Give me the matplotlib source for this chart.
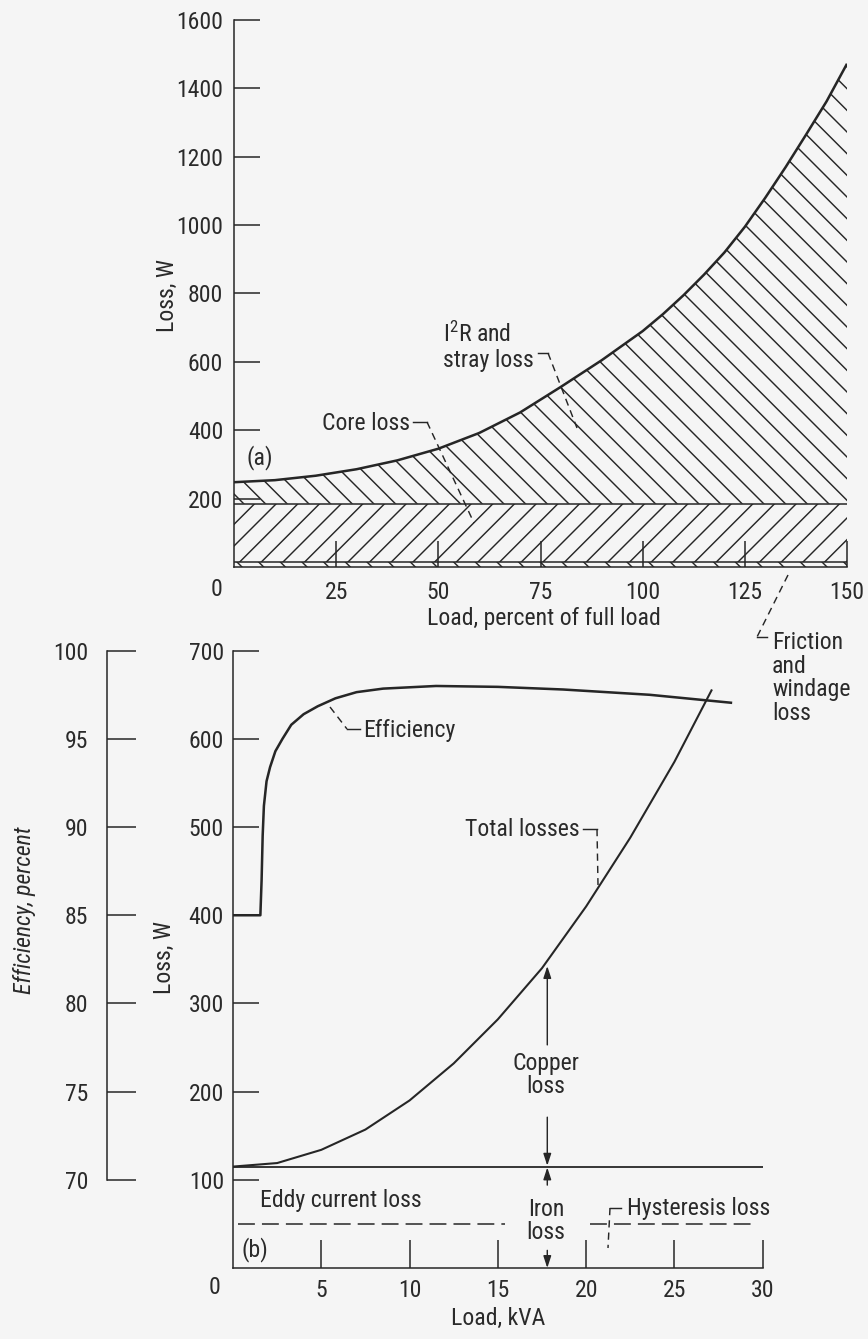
import numpy as np
import matplotlib
matplotlib.use("Agg")
import matplotlib.pyplot as plt
from matplotlib import font_manager as fm
from matplotlib.lines import Line2D
from matplotlib.transforms import Affine2D


# (a) losses against percent of full load
load_pct = [0, 10, 20, 30, 40, 50, 60, 70, 80, 90, 100, 105, 110, 115, 120, 125,
            130, 135, 140, 145, 150]
total_loss_a = [248, 254, 267, 286, 312, 346, 392, 452, 527, 605, 690, 740, 795, 855,
                920, 995, 1080, 1170, 1265, 1362, 1472]
friction_windage = 16
core_plus_friction = 185
ticks_a_x = [25, 50, 75, 100, 125, 150]
ticks_a_y = [200, 400, 600, 800, 1000, 1200, 1400, 1600]

# (b) losses and efficiency against kVA
load_kva = [0, 2.5, 5, 7.5, 10, 12.5, 15, 17.5, 20, 22.5, 25, 27.1]
total_loss_b = [115, 119, 134, 157, 190, 232, 282, 340, 410, 488, 574, 655]
iron_loss = 115
hysteresis_loss = 50
eff_kva = [0, 1.55, 1.62, 1.68, 1.75, 1.9, 2.1, 2.4, 2.8, 3.3, 4.0, 4.8, 5.8, 7.0,
           8.5, 11.5, 15, 18.7, 23.6, 28.2]
efficiency = [85, 85, 87, 89.5, 91.2, 92.6, 93.4, 94.3, 95.0, 95.8, 96.4, 96.85, 97.3,
              97.65, 97.85, 98.0, 97.95, 97.8, 97.5, 97.05]
eddy_spans = [(0.3, 15.4), (20.2, 29.5)]
arrow_kva = 17.8
ticks_b_x = [5, 10, 15, 20, 25, 30]
ticks_b_y = [100, 200, 300, 400, 500, 600, 700]
ticks_eff = [70, 75, 80, 85, 90, 95, 100]

W, H, DPI = 868, 1339, 130
BG = "#f5f5f5"
INK = "#262626"
TXT = "#2a2a2a"

# the original lettering is a narrow sans, take the narrowest one we have
installed = {f.name for f in fm.fontManager.ttflist}
FONT, FS = "DejaVu Sans", 11.0
for name, size in [("Liberation Sans Narrow", 12.8), ("DejaVu Sans Condensed", 11.5),
                   ("Roboto Condensed", 13.2), ("Open Sans Condensed", 12.5),
                   ("Liberation Sans", 11.5)]:
    if name in installed:
        FONT, FS = name, size
        break

plt.rcParams["font.family"] = [FONT, "DejaVu Sans"]
plt.rcParams["mathtext.fontset"] = "custom"
plt.rcParams["mathtext.rm"] = FONT
plt.rcParams["mathtext.default"] = "rm"
plt.rcParams["hatch.linewidth"] = 0.8
plt.rcParams["hatch.color"] = INK
plt.rcParams["text.color"] = TXT

fig = plt.figure(figsize=(W / DPI, H / DPI), dpi=DPI, facecolor=BG)
# pixel coordinates, origin top-left, for labels and leader lines
PX = Affine2D().scale(1 / W, -1 / H).translate(0, 1) + fig.transFigure


def px_box(left, right, top, bottom):
    return [left / W, 1 - bottom / H, (right - left) / W, (bottom - top) / H]


def txt(x, y, s, **kw):
    kw.setdefault("ha", "center")
    kw.setdefault("va", "center")
    kw.setdefault("fontsize", FS)
    fig.text(x, y, s, transform=PX, **kw)


def leader(xs, ys, dashed=True):
    ls = (0, (5, 3.5)) if dashed else "-"
    fig.add_artist(Line2D(xs, ys, transform=PX, color=INK, lw=0.8, ls=ls))


def style_axis(ax, ylen, xlen, ypad, xpad):
    ax.set_facecolor("none")
    for s in ["top", "right"]:
        ax.spines[s].set_visible(False)
    for s in ["left", "bottom"]:
        ax.spines[s].set_linewidth(0.85)
        ax.spines[s].set_color(INK)
    ax.tick_params(axis="y", direction="in", length=ylen, width=0.85, color=INK,
                   pad=ypad, labelsize=FS, labelcolor=TXT)
    ax.tick_params(axis="x", direction="in", length=xlen, width=0.85, color=INK,
                   pad=xpad, labelsize=FS, labelcolor=TXT)


# ---------------- panel (a) ----------------
axa = fig.add_axes(px_box(234, 847, 20, 567))
axa.set_xlim(0, 150)
axa.set_ylim(0, 1600)
style_axis(axa, 14.5, 14.5, 6.0, 8.0)
axa.set_xticks(ticks_a_x)
axa.set_yticks(ticks_a_y)

x_a = np.array(load_pct)
y_a = np.array(total_loss_a)
axa.fill_between(x_a, 0, friction_windage, facecolor="none", edgecolor=INK,
                 hatch="\\\\", linewidth=0)
axa.fill_between(x_a, friction_windage, core_plus_friction, facecolor="none",
                 edgecolor=INK, hatch="//", linewidth=0)
axa.fill_between(x_a, core_plus_friction, y_a, facecolor="none", edgecolor=INK,
                 hatch="\\\\", linewidth=0)
axa.plot(x_a, np.full(len(x_a), friction_windage), color=INK, lw=0.85)
axa.plot(x_a, np.full(len(x_a), core_plus_friction), color=INK, lw=0.85)
axa.plot(x_a, y_a, color=INK, lw=1.4, solid_capstyle="butt")

txt(216, 590, "0")
txt(544, 618, "Load, percent of full load")
txt(167, 295, "Loss, W", rotation=90)
txt(260, 458, "(a)")

txt(366, 424, "Core loss")
leader([413, 427], [422, 422], dashed=False)
leader([427, 474], [422, 523])

txt(443, 347, "I$^{2}$R and\nstray loss", ha="left", linespacing=1.1)
leader([538, 548], [353, 353], dashed=False)
leader([548, 577], [353, 428])

txt(772, 678, "Friction\nand\nwindage\nloss", ha="left", linespacing=1.02)
leader([788, 757], [575, 637])
leader([757, 767], [637, 637], dashed=False)

# ---------------- panel (b) ----------------
axb = fig.add_axes(px_box(233, 762.7, 650.7, 1268))
axb.set_xlim(0, 30)
axb.set_ylim(0, 700)
style_axis(axb, 14.5, 15.5, 5.0, 6.0)
axb.set_xticks(ticks_b_x)
axb.set_yticks(ticks_b_y)

axb.plot(load_kva, total_loss_b, color=INK, lw=1.15)
axb.plot([0, 30], [iron_loss, iron_loss], color=INK, lw=1.0)
for x0, x1 in eddy_spans:
    axb.plot([x0, x1], [hysteresis_loss, hysteresis_loss], color=INK, lw=0.85,
             dashes=(11, 4.6))

arrow = dict(arrowstyle="-|>,head_length=0.55,head_width=0.18", color=INK, lw=0.8,
             mutation_scale=10, shrinkA=0, shrinkB=0)
top_cu = np.interp(arrow_kva, load_kva, total_loss_b)
axb.annotate("", xy=(arrow_kva, top_cu - 6), xytext=(arrow_kva, 253), arrowprops=arrow)
axb.annotate("", xy=(arrow_kva, iron_loss + 1), xytext=(arrow_kva, 171), arrowprops=arrow)
axb.annotate("", xy=(arrow_kva, iron_loss - 1), xytext=(arrow_kva, 94), arrowprops=arrow)
axb.annotate("", xy=(arrow_kva, 0), xytext=(arrow_kva, 20), arrowprops=arrow)

axe = axb.twinx()
axe.set_ylim(65, 100)
axe.set_facecolor("none")
for s in ["top", "right", "bottom"]:
    axe.spines[s].set_visible(False)
axe.spines["left"].set_visible(True)
axe.spines["left"].set_position(("axes", (107.3 - 233) / 529.7))
axe.spines["left"].set_bounds(70, 100)
axe.spines["left"].set_linewidth(0.85)
axe.spines["left"].set_color(INK)
axe.yaxis.set_ticks_position("left")
axe.set_yticks(ticks_eff)
axe.tick_params(axis="y", direction="in", length=16, width=0.85, color=INK,
                pad=10.5, labelsize=FS, labelcolor=TXT)
axe.plot(eff_kva, efficiency, color=INK, lw=1.4)

txt(215, 1288, "0")
txt(498, 1318, "Load, kVA")
txt(164, 957, "Loss, W", rotation=90)
txt(25, 910, "Efficiency, percent", rotation=90, style="italic")
txt(255, 1250, "(b)")

txt(363, 731, "Efficiency", ha="left")
leader([330, 347], [707, 729])
leader([347, 360], [729, 729], dashed=False)

txt(580, 830, "Total losses", ha="right")
leader([583, 597], [829, 829], dashed=False)
leader([597, 598], [829, 885])

txt(546, 1075, "Copper\nloss", linespacing=1.05)
txt(546, 1221, "Iron\nloss", linespacing=1.05)
txt(260, 1200, "Eddy current loss", ha="left")

txt(627, 1208, "Hysteresis loss", ha="left")
leader([610, 621], [1208, 1208], dashed=False)
leader([610, 608], [1208, 1248])

fig.savefig("out.png", dpi=DPI, facecolor=BG)
